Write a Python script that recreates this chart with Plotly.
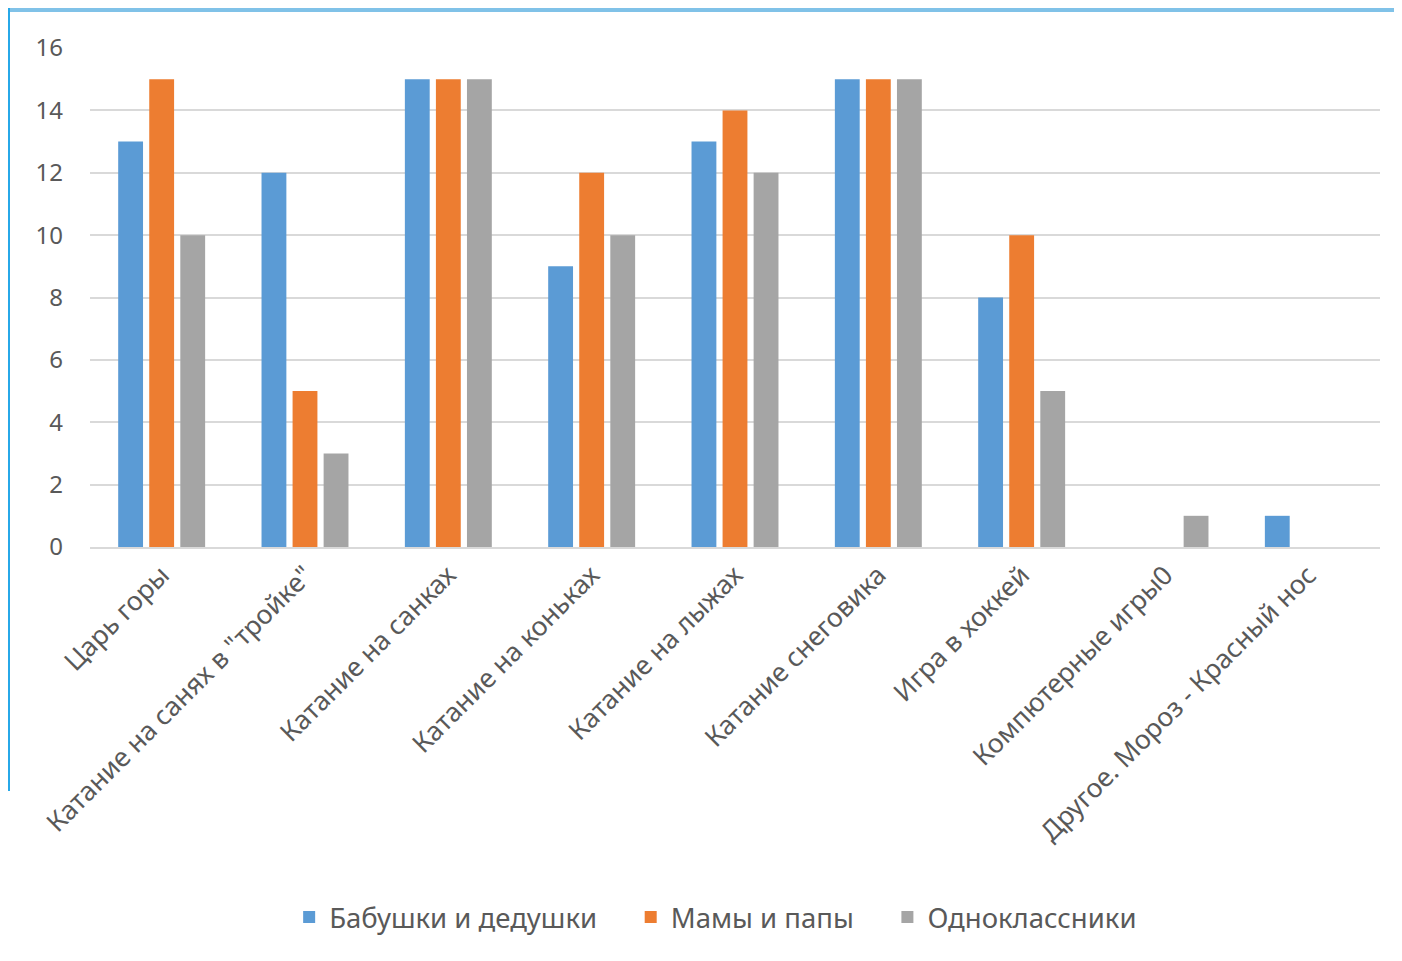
import plotly.graph_objects as go

categories = ["Царь горы", "Катание на санях в \"тройке\"", "Катание на санках",
              "Катание на коньках", "Катание на лыжах", "Катание снеговика",
              "Игра в хоккей", "Компютерные игры0", "Другое. Мороз - Красный нос"]
grandparents = [13, 12, 15, 9, 13, 15, 8, 0, 1]
parents = [15, 5, 15, 12, 14, 15, 10, 0, 0]
classmates = [10, 3, 15, 10, 12, 15, 5, 1, 0]

series_names = ["Бабушки и дедушки", "Мамы и папы", "Одноклассники"]
colors = ["#5b9bd5", "#ed7d31", "#a5a5a5"]
y_ticks = [0, 2, 4, 6, 8, 10, 12, 14, 16]

OFF = 8  # page body margin
W, H = 1402 - OFF, 961 - OFF
L, R, T, B = 90 - OFF, 22, 48 - OFF, 414
pw, ph = W - L - R, H - T - B

fig = go.Figure()
pads = ["\u00a0" * 4, "\u00a0" * 4, ""]
for name, vals, c, pad in zip(series_names, [grandparents, parents, classmates], colors, pads):
    fig.add_trace(go.Bar(x=categories, y=vals, name=name + pad, marker_color=c, marker_line_width=0))

font = "Noto Sans, Open Sans, sans-serif"
shapes = [
    dict(type="rect", xref="paper", yref="paper", x0=-L / pw, x1=1 + R / pw,
         y0=1 + T / ph - 4 / ph, y1=1 + T / ph, fillcolor="#80c2e8", line_width=0, layer="above"),
    dict(type="rect", xref="paper", yref="paper", x0=-L / pw, x1=-L / pw + 2 / pw,
         y0=-B / ph + 170 / ph, y1=1 + T / ph, fillcolor="#27a8e8", line_width=0, layer="above"),
]

fig.update_layout(
    width=W, height=H,
    margin=dict(l=L, r=R, t=T, b=B, autoexpand=False),
    paper_bgcolor="white", plot_bgcolor="white",
    barmode="group", bargap=0.35, bargroupgap=0.2,
    font=dict(family=font, size=22, color="#595959"),
    xaxis=dict(tickangle=-45, showgrid=False, showline=True, linecolor="#d9d9d9", linewidth=2,
               ticks="", tickfont=dict(size=26.5, color="#595959")),
    yaxis=dict(range=[0, 16], tickvals=y_ticks, showgrid=True, gridcolor="#d9d9d9", gridwidth=2,
               zeroline=False, showline=False, ticks="", ticklabelstandoff=26,
               tickfont=dict(size=24, color="#595959")),
    legend=dict(orientation="h", x=0.485, xanchor="center", y=-(917 - 547) / ph, yanchor="middle",
                font=dict(size=27.5, color="#595959"), itemwidth=30, traceorder="normal"),
    shapes=shapes,
)

fig.write_html("out.html")
